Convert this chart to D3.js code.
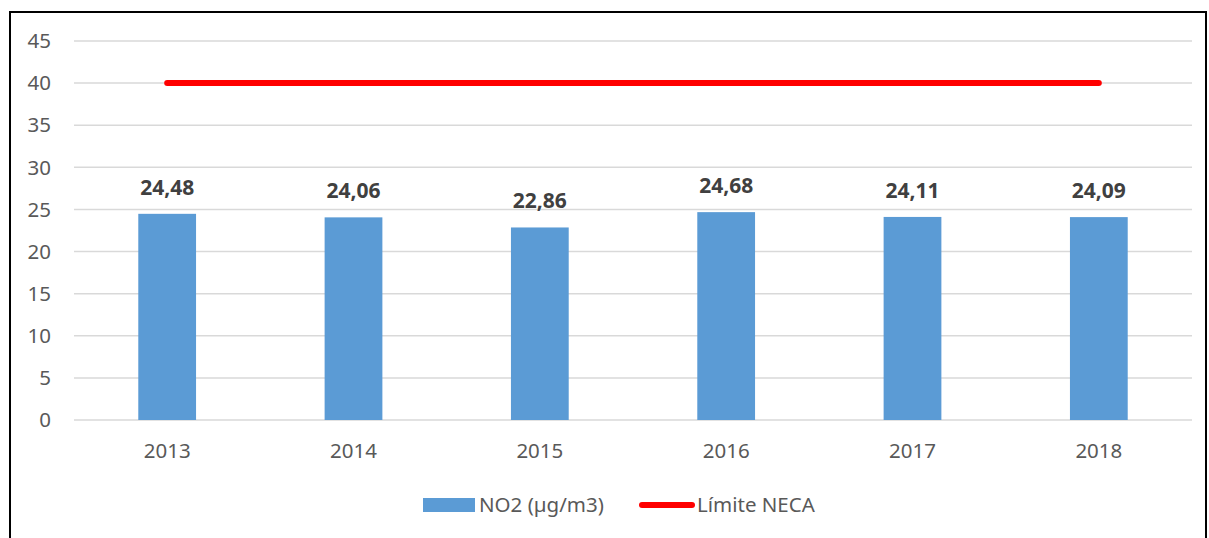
<!DOCTYPE html>
<html>
<head>
<meta charset="utf-8">
<script src="https://cdn.jsdelivr.net/npm/d3@7"></script>
<style>
  body { margin: 0; background: #fff; }
  text { font-family: "Noto Sans", "Open Sans", sans-serif; }
</style>
</head>
<body>
<div id="chart"></div>
<script>
var years = ["2013", "2014", "2015", "2016", "2017", "2018"];
var no2 = [24.48, 24.06, 22.86, 24.68, 24.11, 24.09];
var limit = [40, 40, 40, 40, 40, 40];
var yTicks = [0, 5, 10, 15, 20, 25, 30, 35, 40, 45];
var seriesNames = ["NO2 (µg/m3)", "Límite NECA"];

var width = 1209, height = 538;
var barColor = "#5b9bd5", lineColor = "#ff0000", textColor = "#595959";

var svg = d3.select("#chart").append("svg")
    .attr("width", width)
    .attr("height", height);

// frame
svg.append("rect")
    .attr("x", 10).attr("y", 12)
    .attr("width", 1196).attr("height", 600)
    .attr("fill", "none")
    .attr("stroke", "#000")
    .attr("stroke-width", 2);

var x = d3.scaleBand()
    .domain(years)
    .range([74, 1192])
    .paddingInner(0.69)
    .paddingOuter(0.345);

var y = d3.scaleLinear()
    .domain([0, 45])
    .range([420, 41]);

// gridlines
svg.append("g").selectAll("line")
    .data(yTicks)
  .enter().append("line")
    .attr("x1", 74).attr("x2", 1192)
    .attr("y1", function(d) { return y(d); })
    .attr("y2", function(d) { return y(d); })
    .attr("stroke", "#d9d9d9")
    .attr("stroke-width", 1.5);

// y labels
svg.append("g").selectAll("text")
    .data(yTicks)
  .enter().append("text")
    .attr("x", 51)
    .attr("y", function(d) { return y(d); })
    .attr("dy", "0.35em")
    .attr("text-anchor", "end")
    .attr("fill", textColor)
    .style("font-size", "20.5px")
    .text(function(d) { return d; });

// bars
svg.append("g").selectAll("rect")
    .data(no2)
  .enter().append("rect")
    .attr("x", function(d, i) { return x(years[i]); })
    .attr("y", function(d) { return y(d); })
    .attr("width", x.bandwidth())
    .attr("height", function(d) { return y(0) - y(d); })
    .attr("fill", barColor);

// data labels
svg.append("g").selectAll("text")
    .data(no2)
  .enter().append("text")
    .attr("x", function(d, i) { return x(years[i]) + x.bandwidth() / 2; })
    .attr("y", function(d) { return y(d) - 19; })
    .attr("text-anchor", "middle")
    .attr("fill", "#404040")
    .style("font-size", "21px")
    .style("font-weight", "bold")
    .text(function(d) { return d.toFixed(2).replace(".", ","); });

// x labels
svg.append("g").selectAll("text")
    .data(years)
  .enter().append("text")
    .attr("x", function(d) { return x(d) + x.bandwidth() / 2; })
    .attr("y", 451)
    .attr("dy", "0.35em")
    .attr("text-anchor", "middle")
    .attr("fill", textColor)
    .style("font-size", "20.5px")
    .text(function(d) { return d; });

// limit line
var line = d3.line()
    .x(function(d, i) { return x(years[i]) + x.bandwidth() / 2; })
    .y(function(d) { return y(d); });

svg.append("path")
    .datum(limit)
    .attr("d", line)
    .attr("fill", "none")
    .attr("stroke", lineColor)
    .attr("stroke-width", 6)
    .attr("stroke-linecap", "round");

// legend
var legend = svg.append("g");
legend.append("rect")
    .attr("x", 423).attr("y", 498)
    .attr("width", 52).attr("height", 14)
    .attr("fill", barColor);
legend.append("text")
    .attr("x", 479).attr("y", 505)
    .attr("dy", "0.35em")
    .attr("fill", textColor)
    .style("font-size", "20.5px")
    .text(seriesNames[0]);
legend.append("line")
    .attr("x1", 642).attr("x2", 692)
    .attr("y1", 505).attr("y2", 505)
    .attr("stroke", lineColor)
    .attr("stroke-width", 6)
    .attr("stroke-linecap", "round");
legend.append("text")
    .attr("x", 697).attr("y", 505)
    .attr("dy", "0.35em")
    .attr("fill", textColor)
    .style("font-size", "20.5px")
    .text(seriesNames[1]);
</script>
</body>
</html>
